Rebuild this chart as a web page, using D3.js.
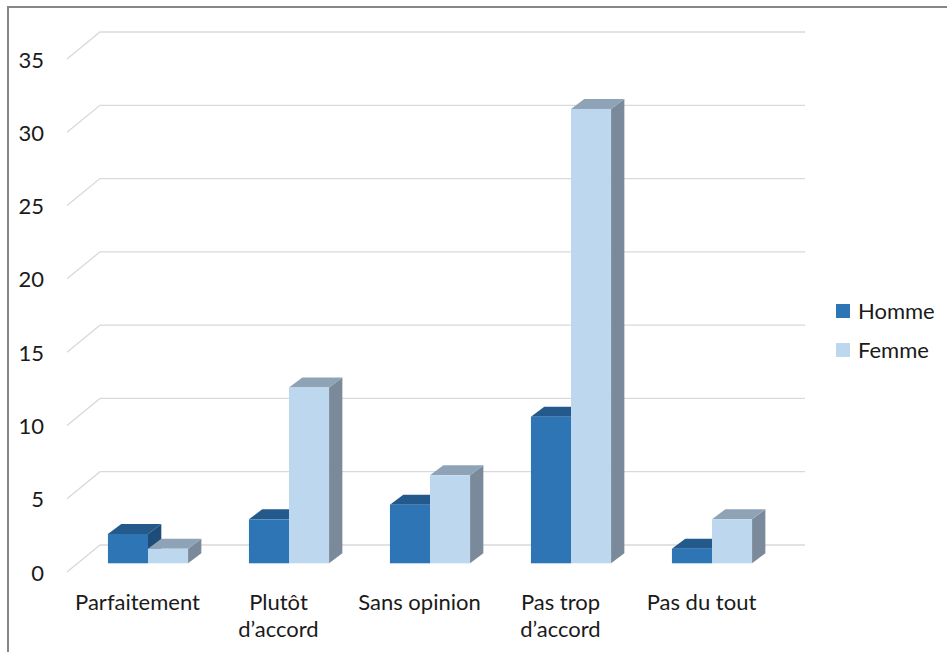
<!DOCTYPE html>
<html><head><meta charset="utf-8">
<script src="https://cdn.jsdelivr.net/npm/d3@7"></script>
<style>body{margin:0;background:#fff}svg{display:block}text{font-family:Lato,"Open Sans",sans-serif;fill:#1a1a1a}</style>
</head><body>
<script>
const categories = ["Parfaitement", "Plutôt d’accord", "Sans opinion", "Pas trop d’accord", "Pas du tout"];
const categoryLines = [["Parfaitement"], ["Plutôt", "d’accord"], ["Sans opinion"], ["Pas trop", "d’accord"], ["Pas du tout"]];
const series = ["Homme", "Femme"];
const homme = [2, 3, 4, 10, 1];
const femme = [1, 12, 6, 31, 3];
const yTicks = [0, 5, 10, 15, 20, 25, 30, 35];

const colors = {
  Homme: {front: "#2e75b6", top: "#24598b", side: "#1f4d79"},
  Femme: {front: "#bdd7ee", top: "#8fa3b6", side: "#7a8a9a"}
};

const W = 947, H = 652;
const FS = 22;
const svg = d3.select("body").append("svg").attr("width", W).attr("height", H);

// frame
svg.append("path").attr("d", `M8,${H+5} L8,7 L${W+5},7`).attr("fill","none").attr("stroke","#868686").attr("stroke-width",2);

const yBack = d3.scaleLinear().domain([0,35]).range([545,32]);
const yFront = d3.scaleLinear().domain([0,35]).range([572,59]);
const yBar = d3.scaleLinear().domain([0,35]).range([563.3,50.3]);
const xBack = d3.scaleBand().domain(categories).range([100,805]);
const xFront = d3.scaleBand().domain(categories).range([67,772]);
const xBar = d3.scaleBand().domain(categories).range([77.5,782.5]);
const xSub = d3.scaleBand().domain(series).range([0,xBar.bandwidth()]).paddingOuter(0.76);
const dx = 13.3, dy = 10;

// gridlines
const g = svg.append("g");
yTicks.forEach(t => {
  g.append("path")
    .attr("d", `M${xFront.range()[0]},${yFront(t)} L${xBack.range()[0]},${yBack(t)} L${xBack.range()[1]},${yBack(t)}`)
    .attr("fill","none").attr("stroke","#d9d9d9").attr("stroke-width",1.3);
  svg.append("text").attr("x",44).attr("y",yFront(t)+8.5).attr("text-anchor","end")
    .attr("font-size",FS).text(t);
});

// bars
const data = series.map(s => ({s, vals: s === "Homme" ? homme : femme}));
const bars = svg.append("g");
categories.forEach((c, i) => {
  data.forEach(d => {
    const v = d.vals[i];
    const x0 = xBar(c) + xSub(d.s), x1 = x0 + xSub.bandwidth();
    const yT = yBar(v), y0 = yBar(0);
    const col = colors[d.s];
    const gg = bars.append("g");
    gg.append("path").attr("d", `M${x1},${yT} L${x1+dx},${yT-dy} L${x1+dx},${y0-dy} L${x1},${y0} Z`).attr("fill", col.side);
    gg.append("path").attr("d", `M${x0},${yT} L${x0+dx},${yT-dy} L${x1+dx},${yT-dy} L${x1},${yT} Z`).attr("fill", col.top);
    gg.append("rect").attr("x", x0).attr("y", yT).attr("width", x1-x0).attr("height", y0-yT).attr("fill", col.front);
  });
});

// category labels
categories.forEach((c, i) => {
  const cx = xFront(c) + xFront.bandwidth()/2;
  const t = svg.append("text").attr("text-anchor","middle").attr("font-size",FS)
    .attr("x", cx).attr("y", 610);
  categoryLines[i].forEach((ln, j) => {
    t.append("tspan").attr("x", cx).attr("dy", j === 0 ? 0 : 27).text(ln);
  });
});

// legend
series.forEach((s, i) => {
  const y = 304 + i*39;
  svg.append("rect").attr("x",836).attr("y",y).attr("width",14).attr("height",14).attr("fill",colors[s].front);
  svg.append("text").attr("x",858).attr("y",y+14.5).attr("font-size",FS).text(s);
});
</script>
</body></html>
